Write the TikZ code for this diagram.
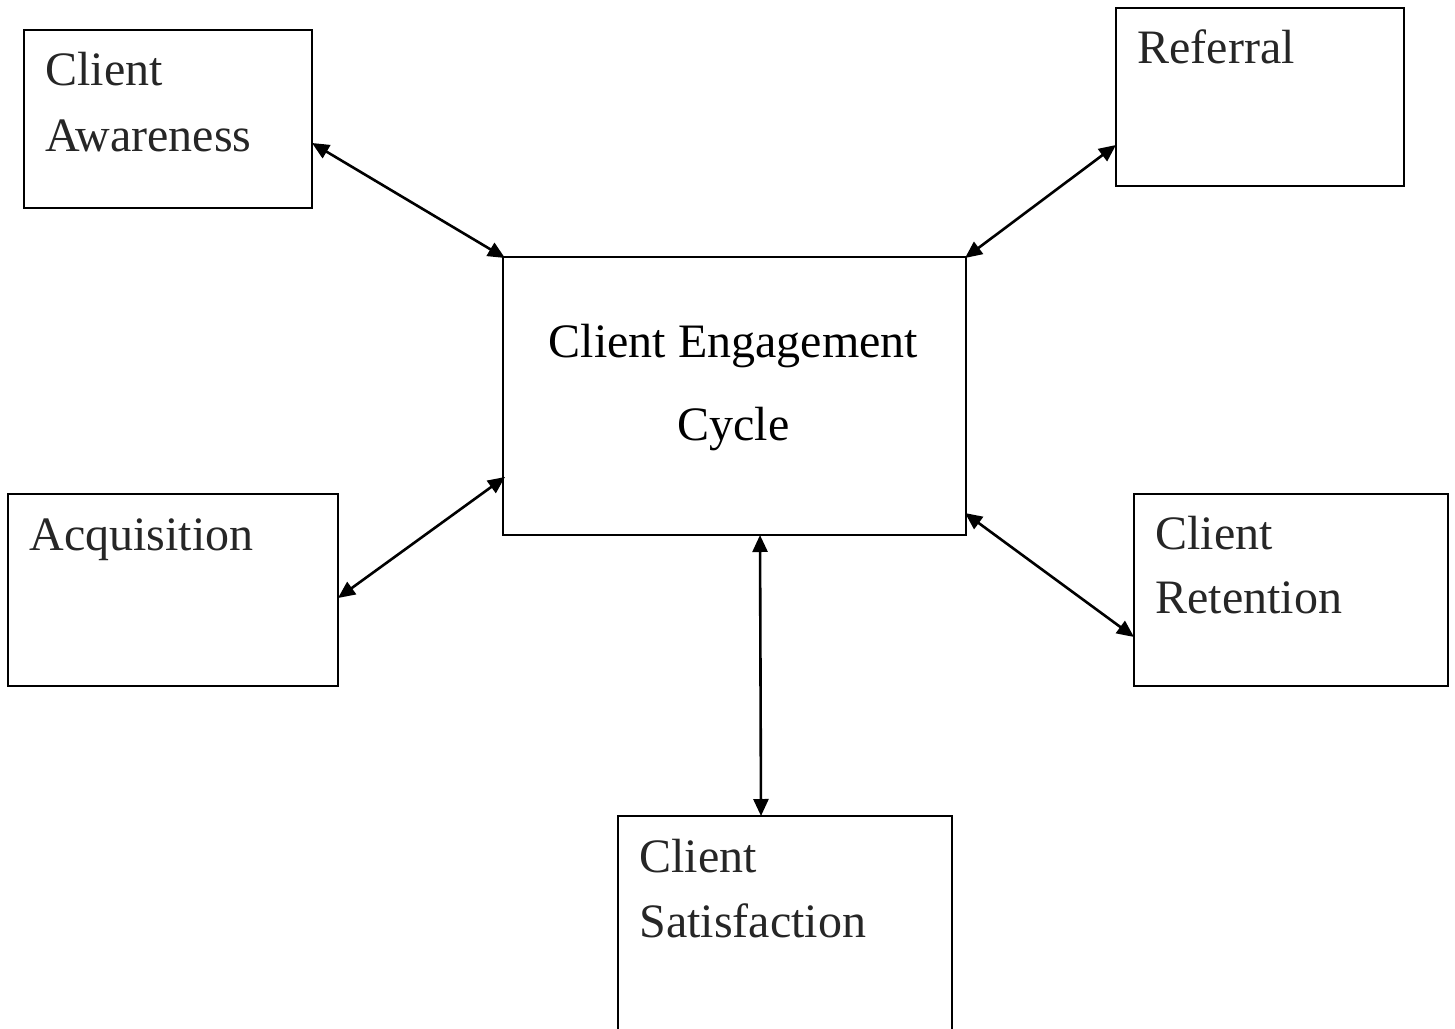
\documentclass[tikz,border=0pt]{standalone}
\usepackage{fontspec}
\setmainfont{Liberation Serif}
\usetikzlibrary{arrows.meta}
\begin{document}
\begin{tikzpicture}[x=0.5pt,y=-0.5pt,
  box/.style={draw=black,line width=1.3pt,rectangle,inner sep=0pt,outer sep=0pt,anchor=north west},
  lbl/.style={anchor=base west,inner sep=0pt,text=black!85,font=\fontsize{24}{28}\selectfont},
  clbl/.style={anchor=base,inner sep=0pt,text=black,font=\fontsize{24}{28}\selectfont},
  link/.style={line width=1.3pt,{Triangle[length=8.5pt,width=7.5pt]}-{Triangle[length=8.5pt,width=7.5pt]}}]
\useasboundingbox (0,0) rectangle (1455,1028);
\clip (0,0) rectangle (1455,1028);
% boxes
\node[box,minimum width=144pt,minimum height=89pt] (aw) at (24,30) {};
\node[box,minimum width=144pt,minimum height=89pt] (rf) at (1116,8) {};
\node[box,minimum width=231.5pt,minimum height=139pt] (ce) at (503,257) {};
\node[box,minimum width=165pt,minimum height=96pt] (aq) at (8,494) {};
\node[box,minimum width=157pt,minimum height=96pt] (rt) at (1134,494) {};
\node[box,minimum width=167pt,minimum height=130pt] (cs) at (618,816) {};
% texts
\node[lbl] (aw1) at (45,85) {Client};
\node[lbl] (aw2) at (45,151) {Awareness};
\node[lbl] (rf1) at (1137,63) {Referral};
\node[clbl] (ce1) at (733.5,357) {Client Engagement};
\node[clbl] (ce2) at (733.5,440) {Cycle};
\node[lbl] (aq1) at (29,550) {Acquisition};
\node[lbl] (rt1) at (1155,549) {Client};
\node[lbl] (rt2) at (1155,613) {Retention};
\node[lbl] (cs1) at (639,872) {Client};
\node[lbl] (cs2) at (639,937) {Satisfaction};
% connector end points on the box borders
\coordinate (awE) at (aw.north east |- 0,143);
\coordinate (ceAW) at (505,258);
\coordinate (rfW) at (rf.north west |- 0,145);
\coordinate (ceRF) at (965,258);
\coordinate (aqE) at (aq.north east |- 0,598);
\coordinate (ceAQ) at (505,477);
\coordinate (rtW) at (rt.north west |- 0,637);
\coordinate (ceRT) at (965,513);
\coordinate (ceS) at (760,535);
\coordinate (csN) at (761,816);
% connectors
\draw[link] (awE) -- (ceAW);
\draw[link] (rfW) -- (ceRF);
\draw[link] (aqE) -- (ceAQ);
\draw[link] (rtW) -- (ceRT);
\draw[link] (ceS) -- (csN);
\end{tikzpicture}
\end{document}
